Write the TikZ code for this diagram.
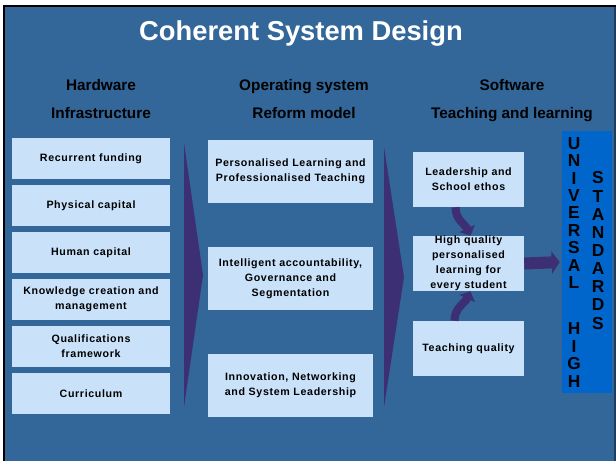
\documentclass[tikz,border=0pt]{standalone}
\usepackage{fontspec}
\setmainfont{Liberation Sans}
\usetikzlibrary{arrows.meta,calc}

\definecolor{slide}{HTML}{336699}
\definecolor{cell}{HTML}{C9E2FA}
\definecolor{chev}{HTML}{3D2F73}
\definecolor{goal}{HTML}{0066CC}

\begin{document}
\begin{tikzpicture}[
x=0.75pt, y=-0.75pt,
every node/.style={
inner sep=0pt,
align=center
},
hd/.style={font=\bfseries\fontsize{11.5}{13}\selectfont, text height=8.5pt, text depth=2.5pt},
box/.style={
fill=cell,
text=black,
font=\bfseries\fontsize{8}{11.2}\selectfont\addfontfeature{LetterSpace=6}
},
hbox/.style={box, minimum width=118.5pt, minimum height=30.75pt},
obox/.style={box, minimum width=123.75pt, minimum height=47.25pt},
sbox/.style={box, minimum width=83.25pt, minimum height=41.25pt},
letters/.style={font=\bfseries\fontsize{13}{13.1}\selectfont}
]

\useasboundingbox (0,0) rectangle (616,461);

% slide background
\fill[white] (0,0) rectangle (616,461);
\fill[black] (3,5) rectangle (616,461);
\fill[slide] (5,7) rectangle (614,461);
\fill[slide!60!black] (614,7) rectangle (616,461);

\node[text=white, font=\bfseries\fontsize{20.5}{23}\selectfont] (T) at (301,33)
{Coherent System Design};

% column heads
\node[hd] (Hw) at (101,86) {Hardware};
\node[hd] (If) at (101,114) {Infrastructure};
\node[hd] (Os) at (304,86) {Operating system};
\node[hd] (Rm) at (304,114) {Reform model};
\node[hd] (Sw) at (512,86) {Software};
\node[hd] (Tl) at (512,114) {Teaching and learning};

% hardware
\node[hbox] (H1) at (91,158.5) {Recurrent funding};
\node[hbox] (H2) at (91,205.5) {Physical capital};
\node[hbox] (H3) at (91,252.5) {Human capital};
\node[hbox] (H4) at (91,299.5) {Knowledge creation and\\management};
\node[hbox] (H5) at (91,346.5) {Qualifications\\framework};
\node[hbox] (H6) at (91,393.5) {Curriculum};

% operating system
\node[obox] (O1) at (290.5,171.5) {Personalised Learning and\\Professionalised Teaching};
\node[obox] (O2) at (290.5,278.5) {Intelligent accountability,\\Governance and\\Segmentation};
\node[obox] (O3) at (290.5,385.5) {Innovation, Networking\\and System Leadership};

% software
\node[sbox] (S1) at (468.5,179.5) {Leadership and\\School ethos};
\node[sbox] (S2) at (468.5,263.5) {High quality\\personalised\\learning for\\every student};
\node[sbox] (S3) at (468.5,348.5) {Teaching quality};

% goal
\node[fill=goal, minimum width=37.5pt, minimum height=196.5pt] (U) at (587,262) {};
\node[letters] (U1) at (574,213) {U\\N\\I\\V\\E\\R\\S\\A\\L};
\node[letters] (U2) at (574,355) {H\\I\\G\\H};
\node[letters, font=\bfseries\fontsize{13}{13.6}\selectfont] (U3) at (598,250.5) {S\\T\\A\\N\\D\\A\\R\\D\\S};

% chevrons
\fill[chev] (184,143) -- (203,275) -- (184,407) -- cycle;
\fill[chev] (384,147) -- (404,277) -- (384,407) -- cycle;

\draw[chev, line width=6pt, -{Triangle[length=6pt,width=12.5pt]}]
($(S1.south)+(-13,0)$) to[out=-90,in=115] ($(S2.north)+(2,0)$);
\draw[chev, line width=6pt, -{Triangle[length=6pt,width=12.5pt]}]
($(S3.north)+(-14,0)$) to[out=90,in=-115] ($(S2.south)+(2,0)$);
\draw[chev, line width=9pt, shorten >=1.5pt, -{Triangle[length=6pt,width=16.5pt]}]
(S2.east) -- (U.west);

\end{tikzpicture}
\end{document}
